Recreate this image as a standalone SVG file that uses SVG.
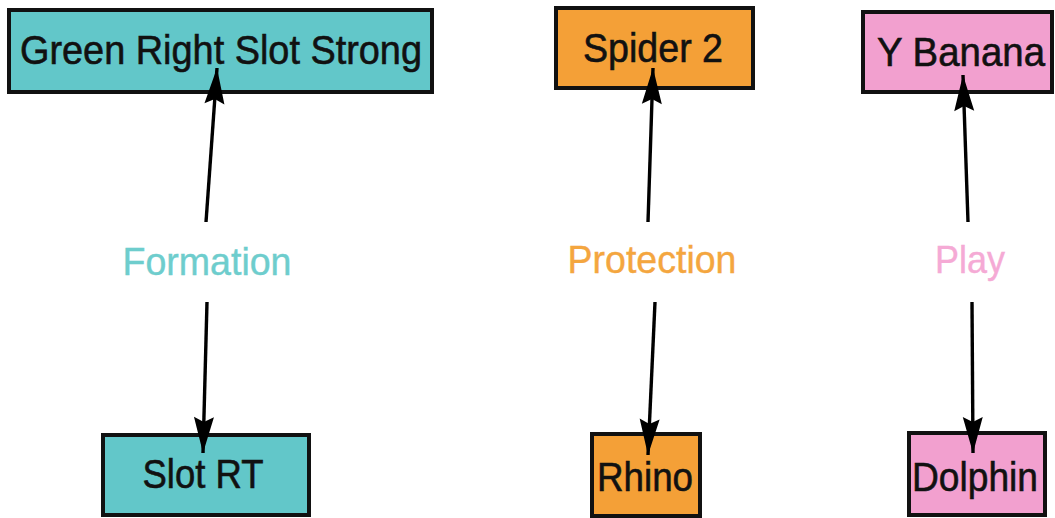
<svg xmlns="http://www.w3.org/2000/svg" width="1055" height="518" viewBox="0 0 1055 518">
  <style>
    .box { stroke: #111; stroke-width: 4; }
    .teal { fill: #62c7c9; }
    .orange { fill: #f4a037; }
    .pink { fill: #f2a0cf; }
    .name { font-family: "Liberation Sans", Arial, sans-serif; font-size: 41px; fill: #111; stroke: #111; stroke-width: 0.6; text-anchor: middle; }
    .label { font-family: "Liberation Sans", Arial, sans-serif; font-size: 39px; stroke-width: 0.4; text-anchor: middle; }
    .edge { stroke: #000; stroke-width: 3.4; fill: none; marker-end: url(#head); }
  </style>
  <defs>
    <marker id="head" markerUnits="userSpaceOnUse" viewBox="-38 -11 40 22" refX="0" refY="0" markerWidth="40" markerHeight="22" orient="auto">
      <path d="M0,0 L-36,-10 L-31,0 L-36,10 Z" fill="#000"/>
    </marker>
  </defs>
  <rect width="1055" height="518" fill="#fff"/>

  <!-- formation column -->
  <g id="green-right-slot-strong">
    <rect class="box teal" x="9" y="10" width="423" height="82"/>
    <text class="name" x="221" y="64" textLength="402" lengthAdjust="spacingAndGlyphs">Green Right Slot Strong</text>
  </g>
  <g id="formation">
    <text class="label" x="207" y="275" fill="#6ecdcd" stroke="#6ecdcd" textLength="169" lengthAdjust="spacingAndGlyphs">Formation</text>
  </g>
  <g id="slot-rt">
    <rect class="box teal" x="103" y="435" width="206" height="80"/>
    <text class="name" x="203" y="488" textLength="121" lengthAdjust="spacingAndGlyphs">Slot RT</text>
  </g>

  <!-- protection column -->
  <g id="spider-2">
    <rect class="box orange" x="556" y="8" width="197" height="80"/>
    <text class="name" x="653" y="62" textLength="140" lengthAdjust="spacingAndGlyphs">Spider 2</text>
  </g>
  <g id="protection">
    <text class="label" x="652" y="273" fill="#f4a63f" stroke="#f4a63f" textLength="169" lengthAdjust="spacingAndGlyphs">Protection</text>
  </g>
  <g id="rhino">
    <rect class="box orange" x="592" y="434" width="108" height="82"/>
    <text class="name" x="645" y="491" textLength="96" lengthAdjust="spacingAndGlyphs">Rhino</text>
  </g>

  <!-- play column -->
  <g id="y-banana">
    <rect class="box pink" x="863" y="12" width="189" height="80"/>
    <text class="name" x="961" y="66" textLength="168" lengthAdjust="spacingAndGlyphs">Y Banana</text>
  </g>
  <g id="play">
    <text class="label" x="970" y="273" fill="#f5aad5" stroke="#f5aad5" textLength="70" lengthAdjust="spacingAndGlyphs">Play</text>
  </g>
  <g id="dolphin">
    <rect class="box pink" x="909" y="433" width="136" height="82"/>
    <text class="name" x="975" y="491" textLength="126" lengthAdjust="spacingAndGlyphs">Dolphin</text>
  </g>

  <!-- connectors: each label points up to its value and down to its sub-value -->
  <g id="connectors">
    <line class="edge" x1="206" y1="222" x2="217" y2="68"/>
    <line class="edge" x1="207" y1="302" x2="203" y2="453"/>
    <line class="edge" x1="648" y1="222" x2="653" y2="68"/>
    <line class="edge" x1="655" y1="302" x2="648" y2="455"/>
    <line class="edge" x1="968" y1="222" x2="963" y2="75"/>
    <line class="edge" x1="972" y1="302" x2="973" y2="453"/>
  </g>
</svg>
